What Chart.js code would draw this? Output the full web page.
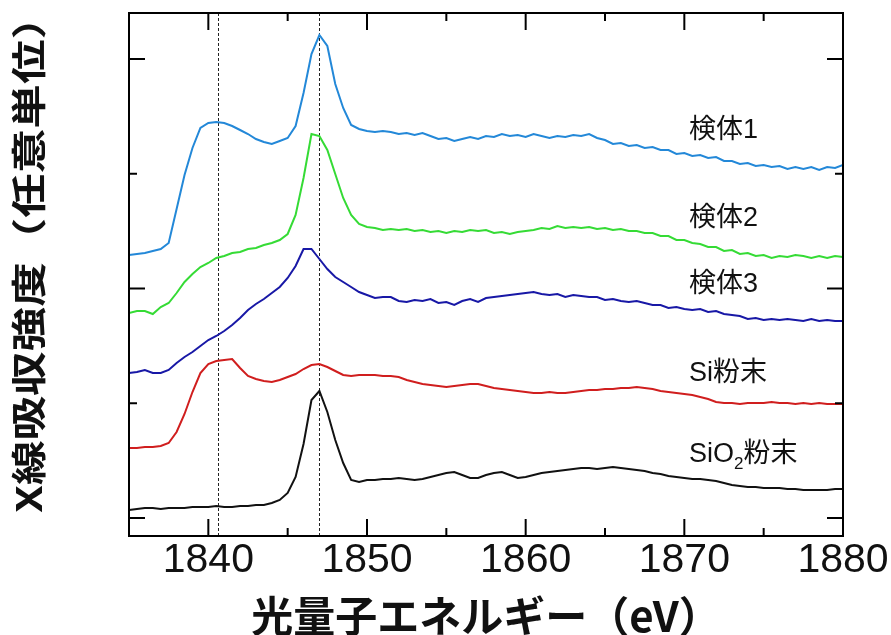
<!DOCTYPE html>
<html>
<head>
<meta charset="UTF-8" />
<script src="https://cdn.jsdelivr.net/npm/chart.js"></script>
<style>
  body, html { margin: 0; padding: 0; background: #fff; }
  #wrap { width: 891px; height: 635px; }
</style>
</head>
<body>
<div id="wrap"><canvas id="xanes"></canvas></div>
<script>
// photon energy (eV)
const energy = [
  1835,1835.5,1836,1836.5,1837,1837.5,1838,1838.5,1839,1839.5,1840,
  1840.5,1841,1841.5,1842,1842.5,1843,1843.5,1844,1844.5,1845,
  1845.5,1846,1846.5,1847,1847.5,1848,1848.5,1849,1849.5,1850,1850.5,1851,1851.5,1852,
  1852.5,1853,1853.5,1854,1854.5,1855,1855.5,1856,1856.5,1857,1857.5,1858,1858.5,1859,1859.5,1860,
  1860.5,1861,1861.5,1862,1862.5,1863,1863.5,1864,1864.5,1865,1865.5,1866,1866.5,1867,1867.5,1868,1868.5,1869,1869.5,1870,
  1870.5,1871,1871.5,1872,1872.5,1873,1873.5,1874,1874.5,1875,1875.5,1876,1876.5,1877,1877.5,1878,1878.5,1879,1879.5,1880
];

// absorption intensity (arbitrary units, curves stacked with offsets)
const sample1 = [
  281,282,283,285,287,293,327,361,388,408,413,
  414,413,410,406,402,397,394,392,395,398,
  410,443,482,501,490,452,428,411,407,405,404,405,404,402,
  403,401,403,400,397,398,395,397,399,397,400,399,402,400,401,399,
  402,400,398,400,399,401,400,402,398,396,392,393,390,391,388,389,386,386,382,383,
  380,381,378,379,375,375,372,373,370,371,369,370,367,369,367,369,366,369,368,371
];
const sample2 = [
  223,225,225,222,229,233,243,254,262,269,273,
  278,280,283,284,287,288,291,293,296,302,
  321,358,402,400,386,362,338,321,312,309,308,306,307,306,
  307,305,306,304,305,303,305,304,306,305,306,303,304,302,304,305,
  306,308,307,310,308,309,308,309,307,308,306,307,305,305,303,303,300,300,296,296,
  293,292,289,289,285,286,282,283,280,281,278,280,279,281,280,278,280,278,280,279
];
const sample3 = [
  163,164,166,163,163,166,173,179,184,190,196,
  200,205,211,218,226,232,237,243,249,258,
  270,287,287,277,267,259,254,249,244,241,238,239,239,235,
  234,236,235,237,233,234,231,235,237,234,238,239,240,241,242,243,
  244,242,241,242,239,241,240,239,239,236,237,235,234,235,233,231,231,228,229,227,
  226,227,224,225,222,221,220,217,218,216,217,216,217,216,215,217,215,216,215,215
];
const siPowder = [
  88,88,89,89,90,93,104,122,144,163,172,
  175,176,177,168,160,157,155,154,156,159,
  162,167,171,172,169,165,161,160,161,161,161,160,160,159,
  156,154,152,151,150,149,150,151,152,152,150,148,147,146,145,144,
  143,143,144,143,143,144,145,146,146,147,147,148,148,149,148,147,145,144,143,142,
  141,139,137,134,133,133,132,133,133,133,134,133,133,132,133,132,133,132,132,132
];
const sio2Powder = [
  26,27,28,28,27,28,28,28,29,29,29,
  30,29,29,30,30,31,31,33,36,43,
  59,92,136,145,124,96,73,56,54,56,56,57,57,58,
  57,56,57,59,61,63,64,61,58,58,61,63,64,61,58,59,
  61,63,64,65,66,67,68,68,67,68,69,68,67,66,65,63,62,60,59,58,
  57,57,56,55,53,51,50,49,49,48,48,48,47,47,46,46,46,46,47,47
];

const seriesNames = ['検体1', '検体2', '検体3', 'Si粉末', 'SiO2粉末'];
const xTickValues = [1840, 1850, 1860, 1870, 1880];
const xMinorValues = [1845, 1855, 1865, 1875];
const yMajorValues = [18, 247.5, 477];
const yMinorValues = [132.75, 362.25];
const markerLines = [1840.6, 1847.0];
const yTitle = 'X線吸収強度（任意単位）';

// where the curve names sit (data coords)
const labelX = 1870.3;
const labelY = [405, 317, 251, 162, 81];

const colors = ['#2388d8', '#35db35', '#1818a6', '#d01e1e', '#111111'];
const seriesData = [sample1, sample2, sample3, siPowder, sio2Powder];

const framePlugin = {
  id: 'frame',
  beforeDatasetsDraw(chart) {
    const { ctx, chartArea: a, scales: { x } } = chart;
    ctx.save();
    ctx.strokeStyle = '#222';
    ctx.lineWidth = 1;
    ctx.setLineDash([3, 2]);
    markerLines.forEach(v => {
      const px = Math.round(x.getPixelForValue(v)) + 0.5;
      ctx.beginPath();
      ctx.moveTo(px, a.top);
      ctx.lineTo(px, a.bottom);
      ctx.stroke();
    });
    ctx.restore();
  },
  afterDatasetsDraw(chart) {
    const { ctx, chartArea: a, scales: { x, y } } = chart;
    ctx.save();
    ctx.strokeStyle = '#000';
    ctx.lineWidth = 2;
    ctx.strokeRect(a.left, a.top, a.right - a.left, a.bottom - a.top);

    const tick = (x1, y1, x2, y2) => {
      ctx.beginPath(); ctx.moveTo(x1, y1); ctx.lineTo(x2, y2); ctx.stroke();
    };
    xTickValues.concat(xMinorValues).forEach(v => {
      if (v >= 1880) return;
      const len = xMinorValues.includes(v) ? 8 : 17;
      const px = x.getPixelForValue(v);
      tick(px, a.bottom, px, a.bottom - len);
      tick(px, a.top, px, a.top + len);
    });
    yMajorValues.concat(yMinorValues).forEach(v => {
      const len = yMinorValues.includes(v) ? 8 : 16;
      const py = y.getPixelForValue(v);
      tick(a.left, py, a.left + len, py);
      tick(a.right, py, a.right - len, py);
    });

    // curve names
    ctx.fillStyle = '#111';
    ctx.textBaseline = 'middle';
    ctx.textAlign = 'left';
    const big = '27px "Liberation Sans", "Noto Sans CJK JP", sans-serif';
    const small = '17px "Liberation Sans", "Noto Sans CJK JP", sans-serif';
    seriesNames.forEach((name, i) => {
      let px = x.getPixelForValue(labelX);
      const py = y.getPixelForValue(labelY[i]);
      // subscript the 2 in SiO2
      const parts = name === 'SiO2粉末'
        ? [['SiO', false], ['2', true], ['粉末', false]]
        : [[name, false]];
      parts.forEach(([t, sub]) => {
        ctx.font = sub ? small : big;
        ctx.fillText(t, px, sub ? py + 9 : py);
        px += ctx.measureText(t).width;
      });
    });

    // y axis title, stretched a bit along its length like the original
    ctx.font = 'bold 38px "Noto Sans CJK JP", sans-serif';
    ctx.textAlign = 'center';
    const w = ctx.measureText(yTitle).width;
    ctx.translate(29, 254);
    ctx.rotate(-Math.PI / 2);
    ctx.scale(518 / w, 0.92);
    ctx.fillText(yTitle, 0, 0);
    ctx.restore();
  }
};

new Chart(document.getElementById('xanes'), {
  type: 'line',
  data: {
    labels: energy,
    datasets: seriesData.map((vals, i) => ({
      label: seriesNames[i],
      data: vals.map((v, j) => ({ x: energy[j], y: v })),
      borderColor: colors[i],
      borderWidth: 2,
      pointRadius: 0,
      tension: 0,
      fill: false
    }))
  },
  options: {
    responsive: true,
    maintainAspectRatio: false,
    animation: false,
    layout: { padding: { top: 13, right: 48, left: 0, bottom: 0 } },
    plugins: { legend: { display: false }, tooltip: { enabled: false } },
    scales: {
      x: {
        type: 'linear',
        min: 1835,
        max: 1880,
        afterBuildTicks(scale) { scale.ticks = xTickValues.map(v => ({ value: v })); },
        afterFit(scale) { scale.height = 99; },
        grid: { display: false, drawTicks: false },
        border: { display: false },
        ticks: {
          padding: 0,
          color: '#111',
          maxRotation: 0,
          callback: v => String(v),
          font: { family: '"Liberation Sans", Arial, sans-serif', size: 41 }
        },
        title: {
          display: true,
          text: '光量子エネルギー（eV）',
          color: '#111',
          padding: { top: 0, bottom: -6 },
          font: { family: '"Noto Sans CJK JP", sans-serif', size: 42, weight: 'bold' }
        }
      },
      y: {
        min: 0,
        max: 523,
        afterFit(scale) { scale.width = 129; },
        grid: { display: false, drawTicks: false },
        border: { display: false },
        ticks: { display: false },
        title: { display: false }
      }
    }
  },
  plugins: [framePlugin]
});
</script>
</body>
</html>
